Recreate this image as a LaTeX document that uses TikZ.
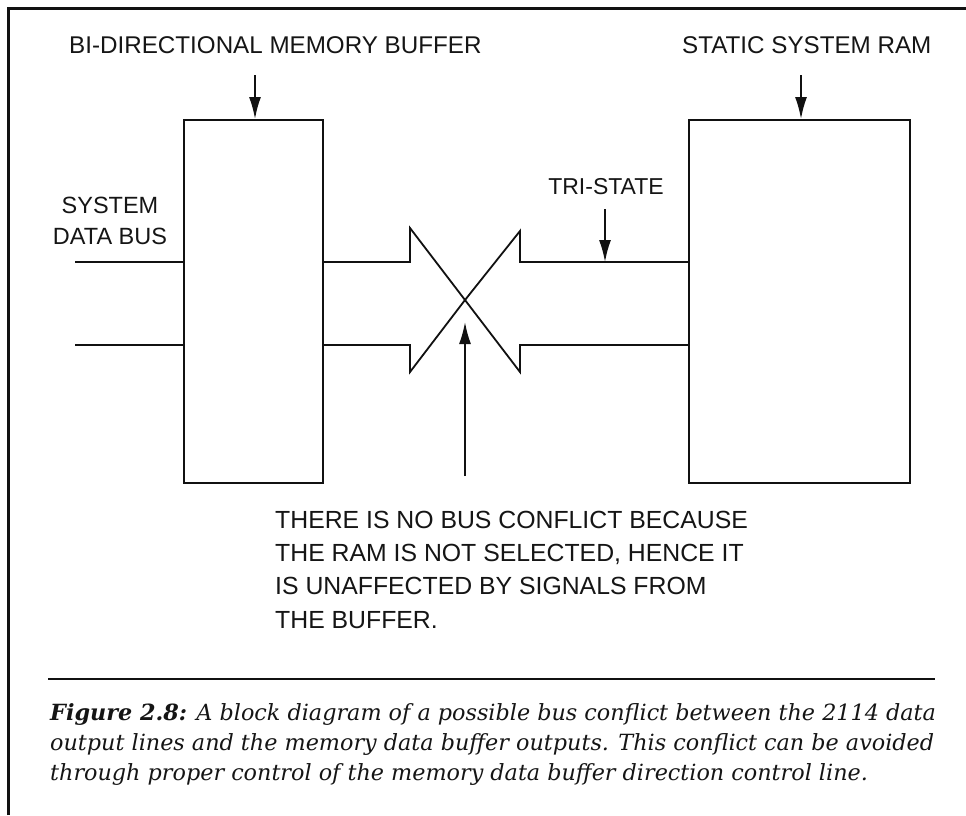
\documentclass[tikz,border=0pt]{standalone}
\usepackage{fontspec}
\setmainfont{Liberation Serif}
\setsansfont{Liberation Sans}
\newfontfamily\capfont{DejaVu Serif}
\usetikzlibrary{arrows.meta}

\begin{document}
\begin{tikzpicture}[x=1pt, y=-1pt,
    label/.style={font=\sffamily\fontsize{24.2}{33}\selectfont, inner sep=0pt, text=textColour},
    box/.style={draw=borderColour, line width=2.2pt, inner sep=0pt},
    pointer/.style={-{Latex[length=22pt,width=12pt]}, line width=1.8pt, draw=borderColour},
    bus/.style={line width=1.8pt, draw=borderColour}]
    \def\busTop{262}
    \def\busBot{345}

    \definecolor{borderColour}{HTML}{111111}
    \definecolor{textColour}{HTML}{151515}

    \useasboundingbox (0,0) rectangle (966,815);

    % Frame
    \draw[line width=3pt, borderColour] (8,815) -- (8,8) -- (966,8);

    % Buffer and RAM blocks
    \node[box, anchor=north west, minimum width=139pt, minimum height=363pt] (buffer) at (183,119) {};
    \node[box, anchor=north west, minimum width=221pt, minimum height=363pt] (ram) at (688,119) {};

    % Top labels
    \node[label, anchor=base west] (bufferLabel) at (69,53) {BI-DIRECTIONAL MEMORY BUFFER};
    \node[label, anchor=base west] (ramLabel) at (682,53) {STATIC SYSTEM RAM};
    \coordinate (bufferTop) at (255,75);
    \coordinate (ramTop) at (801,75);
    \draw[pointer] (bufferTop) -- (bufferTop |- buffer.north);
    \draw[pointer] (ramTop) -- (ramTop |- ram.north);

    % System data bus
    \node[label, align=center, font=\sffamily\fontsize{23.5}{33}\selectfont] (busLabel) at (110,221) {SYSTEM\\[-2pt]DATA BUS};
    \coordinate (busA) at (75,\busTop);
    \coordinate (busB) at (75,\busBot);
    \draw[bus] (busA) -- (busA -| buffer.west);
    \draw[bus] (busB) -- (busB -| buffer.west);

    % Crossing arrows: buffer output against RAM output
    \coordinate (tip) at (465,300);
    \draw[bus, line join=miter] (buffer.east |- 0,\busTop) -- (410,\busTop) -- (410,228) -- (tip)
        -- (410,372) -- (410,\busBot) -- (buffer.east |- 0,\busBot);
    \draw[bus, line join=miter] (ram.west |- 0,\busTop) -- (520,\busTop) -- (520,231) -- (tip)
        -- (520,372) -- (520,\busBot) -- (ram.west |- 0,\busBot);

    % Tri-state marker
    \node[label, font=\sffamily\fontsize{23}{33}\selectfont] (triLabel) at (606,187) {TRI-STATE};
    \coordinate (triTop) at (605,209);
    \draw[pointer] (triTop) -- (605,\busTop);

    % Note below (base is the last line)
    \node[label, anchor=base west, align=left, font=\sffamily\fontsize{24.8}{33.3}\selectfont] (note) at (275,628)
        {THERE IS NO BUS CONFLICT BECAUSE\\THE RAM IS NOT SELECTED, HENCE IT\\IS UNAFFECTED BY SIGNALS FROM\\THE BUFFER.};
    \coordinate (noteTop) at (465,476);
    \draw[pointer] (noteTop) -- (465,322);

    % Caption
    \draw[line width=1.8pt, borderColour] (48,679) -- (935,679);
    \node[anchor=base west, align=left, inner sep=0pt, text=textColour,
          font=\capfont\itshape\fontsize{22.3}{30}\selectfont] (caption) at (50,780)
        {\textbf{Figure 2.8:} A block diagram of a possible bus conflict between the 2114 data\\
         output lines and the memory data buffer outputs. This conflict can be avoided\\
         through proper control of the memory data buffer direction control line.};

\end{tikzpicture}
\end{document}
